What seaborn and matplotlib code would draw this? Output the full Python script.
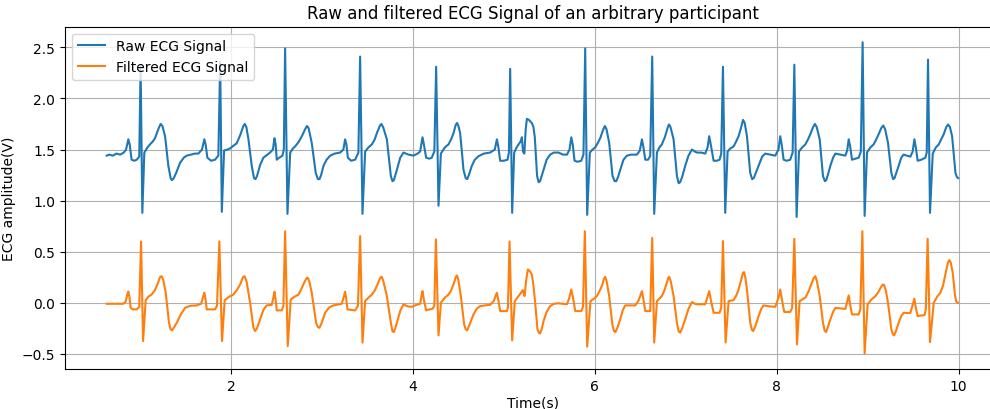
import matplotlib
matplotlib.use("Agg")
import matplotlib.pyplot as plt
import seaborn as sns
import pandas as pd

# Raw ECG trace as (time in s, amplitude in V), one row per heartbeat
raw_points = [
    (0.632, 1.44), (0.66, 1.45), (0.70, 1.44), (0.74, 1.46), (0.78, 1.45), (0.82, 1.47), (0.845, 1.50),
    (0.870, 1.60), (0.885, 1.55), (0.906, 1.40), (0.935, 1.39), (0.962, 1.40), (0.990, 1.43),
    (1.005, 2.33), (1.024, 0.88), (1.046, 1.47), (1.08, 1.52), (1.108, 1.55), (1.14, 1.58), (1.163, 1.61),
    (1.20, 1.70), (1.225, 1.75), (1.245, 1.73), (1.274, 1.63), (1.310, 1.34), (1.335, 1.22), (1.350, 1.20),
    (1.37, 1.22), (1.40, 1.28), (1.439, 1.37), (1.48, 1.42), (1.512, 1.44), (1.56, 1.45), (1.60, 1.46),
    (1.64, 1.46), (1.68, 1.50), (1.706, 1.60), (1.72, 1.55), (1.739, 1.42), (1.78, 1.39), (1.823, 1.40),
    (1.860, 1.44),
    (1.880, 2.36), (1.898, 0.89), (1.923, 1.49), (1.96, 1.50), (1.988, 1.51), (2.03, 1.54), (2.061, 1.56),
    (2.10, 1.64), (2.135, 1.73), (2.150, 1.75), (2.168, 1.72), (2.191, 1.60), (2.227, 1.34), (2.252, 1.22),
    (2.268, 1.21), (2.285, 1.24), (2.320, 1.35), (2.355, 1.42), (2.40, 1.45), (2.429, 1.47), (2.460, 1.50),
    (2.477, 1.61), (2.49, 1.55), (2.502, 1.40), (2.53, 1.42), (2.565, 1.44), (2.580, 1.50),
    (2.594, 2.49), (2.620, 0.87), (2.650, 1.47), (2.68, 1.51), (2.704, 1.53), (2.74, 1.57), (2.778, 1.63),
    (2.815, 1.70), (2.835, 1.73), (2.852, 1.71), (2.887, 1.565), (2.931, 1.27), (2.955, 1.21), (2.972, 1.21),
    (2.99, 1.25), (3.016, 1.34), (3.05, 1.40), (3.090, 1.44), (3.14, 1.46), (3.199, 1.47), (3.235, 1.50),
    (3.254, 1.60), (3.268, 1.55), (3.284, 1.42), (3.32, 1.39), (3.364, 1.40), (3.400, 1.47),
    (3.419, 2.41), (3.445, 0.87), (3.474, 1.48), (3.51, 1.52), (3.548, 1.55), (3.58, 1.60), (3.603, 1.66),
    (3.635, 1.73), (3.652, 1.75), (3.672, 1.72), (3.713, 1.60), (3.757, 1.24), (3.775, 1.19), (3.790, 1.20),
    (3.823, 1.30), (3.86, 1.42), (3.896, 1.47), (3.95, 1.45), (4.006, 1.44), (4.05, 1.46), (4.079, 1.48),
    (4.105, 1.62), (4.12, 1.55), (4.145, 1.42), (4.18, 1.41), (4.207, 1.42), (4.235, 1.48),
    (4.255, 2.31), (4.281, 0.95), (4.307, 1.46), (4.35, 1.52), (4.391, 1.55), (4.42, 1.60), (4.446, 1.66),
    (4.470, 1.74), (4.485, 1.76), (4.500, 1.73), (4.519, 1.66), (4.556, 1.30), (4.580, 1.22), (4.596, 1.21),
    (4.615, 1.25), (4.647, 1.34), (4.68, 1.40), (4.721, 1.435), (4.78, 1.46), (4.849, 1.47), (4.900, 1.50),
    (4.923, 1.60), (4.94, 1.52), (4.959, 1.39), (5.00, 1.39), (5.040, 1.40), (5.055, 1.47),
    (5.069, 2.29), (5.091, 0.88), (5.113, 1.47), (5.14, 1.52), (5.161, 1.55), (5.185, 1.58), (5.198, 1.62),
    (5.210, 1.48), (5.225, 1.46), (5.240, 1.70), (5.253, 1.80), (5.275, 1.79), (5.307, 1.76), (5.325, 1.72),
    (5.340, 1.62), (5.365, 1.24), (5.382, 1.18), (5.398, 1.19), (5.436, 1.30), (5.47, 1.40), (5.509, 1.45),
    (5.55, 1.47), (5.601, 1.47), (5.65, 1.45), (5.693, 1.45), (5.722, 1.50), (5.741, 1.62), (5.757, 1.55),
    (5.777, 1.39), (5.81, 1.38), (5.851, 1.39), (5.875, 1.45),
    (5.894, 2.49), (5.916, 0.86), (5.945, 1.47), (5.975, 1.50), (6.004, 1.52), (6.03, 1.56), (6.059, 1.61),
    (6.09, 1.69), (6.110, 1.73), (6.128, 1.70), (6.158, 1.565), (6.195, 1.24), (6.218, 1.19), (6.235, 1.19),
    (6.255, 1.23), (6.279, 1.30), (6.315, 1.40), (6.353, 1.44), (6.40, 1.45), (6.463, 1.45), (6.495, 1.49),
    (6.518, 1.60), (6.533, 1.53), (6.555, 1.40), (6.585, 1.40), (6.609, 1.435),
    (6.631, 2.41), (6.653, 0.87), (6.683, 1.47), (6.71, 1.52), (6.737, 1.55), (6.77, 1.62), (6.800, 1.71),
    (6.815, 1.745), (6.832, 1.72), (6.866, 1.60), (6.903, 1.24), (6.922, 1.17), (6.938, 1.18), (6.960, 1.23),
    (6.994, 1.34), (7.03, 1.44), (7.068, 1.50), (7.10, 1.48), (7.123, 1.47), (7.17, 1.47), (7.214, 1.46),
    (7.240, 1.52), (7.258, 1.63), (7.275, 1.55), (7.306, 1.39), (7.34, 1.39), (7.372, 1.40), (7.390, 1.46),
    (7.409, 2.31), (7.434, 0.88), (7.460, 1.48), (7.49, 1.51), (7.526, 1.53), (7.555, 1.58), (7.581, 1.63),
    (7.61, 1.72), (7.630, 1.79), (7.648, 1.76), (7.673, 1.63), (7.709, 1.27), (7.730, 1.21), (7.748, 1.22),
    (7.770, 1.27), (7.801, 1.34), (7.84, 1.43), (7.874, 1.46), (7.93, 1.45), (7.984, 1.44), (8.02, 1.50),
    (8.039, 1.63), (8.055, 1.55), (8.076, 1.40), (8.11, 1.39), (8.149, 1.40), (8.175, 1.47),
    (8.194, 2.33), (8.219, 0.84), (8.245, 1.48), (8.28, 1.52), (8.315, 1.55), (8.345, 1.60), (8.370, 1.65),
    (8.400, 1.72), (8.420, 1.75), (8.440, 1.72), (8.473, 1.60), (8.509, 1.24), (8.530, 1.19), (8.545, 1.20),
    (8.565, 1.26), (8.590, 1.34), (8.62, 1.42), (8.645, 1.46), (8.70, 1.45), (8.755, 1.44), (8.775, 1.49),
    (8.792, 1.60), (8.808, 1.53), (8.828, 1.40), (8.865, 1.41), (8.902, 1.42), (8.925, 1.48),
    (8.945, 2.55), (8.967, 0.85), (8.993, 1.47), (9.03, 1.52), (9.066, 1.55), (9.095, 1.60), (9.121, 1.65),
    (9.150, 1.71), (9.172, 1.735), (9.192, 1.70), (9.224, 1.565), (9.261, 1.27), (9.280, 1.21), (9.296, 1.22),
    (9.315, 1.27), (9.341, 1.34), (9.37, 1.42), (9.396, 1.45), (9.43, 1.44), (9.470, 1.43), (9.495, 1.48),
    (9.514, 1.60), (9.530, 1.52), (9.550, 1.39), (9.59, 1.40), (9.635, 1.42), (9.650, 1.47),
    (9.664, 2.38), (9.686, 0.88), (9.716, 1.46), (9.75, 1.52), (9.782, 1.55), (9.81, 1.60), (9.837, 1.65),
    (9.865, 1.72), (9.885, 1.745), (9.905, 1.72), (9.929, 1.63), (9.966, 1.27), (9.982, 1.23), (9.995, 1.22),
]

# Filtered ECG trace as (time in s, amplitude in V), one row per heartbeat
filtered_points = [
    (0.632, -0.01), (0.70, -0.01), (0.78, -0.01), (0.815, -0.01), (0.840, 0.01), (0.858, 0.08), (0.870, 0.11),
    (0.882, 0.06), (0.896, -0.05), (0.92, -0.065), (0.962, -0.065), (0.990, -0.04), (1.010, 0.60),
    (1.032, -0.375), (1.061, 0.026), (1.09, 0.06), (1.126, 0.08), (1.16, 0.12), (1.190, 0.18), (1.218, 0.25),
    (1.236, 0.26), (1.255, 0.22), (1.281, 0.10), (1.317, -0.196), (1.335, -0.26), (1.350, -0.27),
    (1.370, -0.245), (1.402, -0.196), (1.45, -0.11), (1.494, -0.05), (1.55, -0.03), (1.622, -0.026),
    (1.670, -0.01), (1.690, 0.05), (1.706, 0.10), (1.718, 0.04), (1.732, -0.065), (1.78, -0.065),
    (1.823, -0.065), (1.845, -0.03),
    (1.871, 0.60), (1.900, -0.375), (1.930, 0.026), (1.98, 0.06), (2.025, 0.08), (2.06, 0.12), (2.100, 0.18),
    (2.130, 0.25), (2.148, 0.26), (2.170, 0.21), (2.209, 0.00), (2.245, -0.24), (2.264, -0.277),
    (2.285, -0.25), (2.319, -0.163), (2.355, -0.07), (2.392, -0.026), (2.447, -0.02), (2.465, 0.05),
    (2.477, 0.108), (2.490, 0.03), (2.502, -0.075), (2.557, -0.075), (2.575, -0.03),
    (2.594, 0.70), (2.623, -0.424), (2.656, 0.033), (2.70, 0.06), (2.741, 0.08), (2.775, 0.14), (2.800, 0.19),
    (2.830, 0.24), (2.843, 0.245), (2.860, 0.21), (2.887, 0.098), (2.935, -0.196), (2.955, -0.24),
    (2.972, -0.245), (2.995, -0.20), (3.034, -0.098), (3.08, -0.045), (3.126, -0.026), (3.217, -0.01),
    (3.240, 0.06), (3.254, 0.108), (3.266, 0.04), (3.280, -0.065), (3.32, -0.07), (3.364, -0.075),
    (3.395, -0.03),
    (3.419, 0.652), (3.445, -0.39), (3.474, 0.016), (3.51, 0.05), (3.548, 0.08), (3.58, 0.12), (3.610, 0.18),
    (3.640, 0.245), (3.657, 0.254), (3.675, 0.21), (3.713, 0.065), (3.757, -0.196), (3.775, -0.28),
    (3.790, -0.287), (3.805, -0.25), (3.823, -0.196), (3.86, -0.08), (3.896, -0.016), (3.94, -0.035),
    (3.988, -0.04), (4.04, -0.02), (4.079, -0.01), (4.092, 0.06), (4.105, 0.114), (4.120, 0.03),
    (4.145, -0.075), (4.18, -0.065), (4.215, -0.06), (4.235, -0.03),
    (4.252, 0.62), (4.281, -0.32), (4.307, 0.0), (4.35, 0.05), (4.391, 0.08), (4.42, 0.12), (4.450, 0.19),
    (4.472, 0.255), (4.485, 0.267), (4.500, 0.22), (4.527, 0.065), (4.563, -0.212), (4.580, -0.26),
    (4.596, -0.27), (4.620, -0.22), (4.666, -0.114), (4.70, -0.06), (4.739, -0.033), (4.80, -0.025),
    (4.849, -0.02), (4.890, 0.02), (4.910, 0.07), (4.923, 0.098), (4.938, 0.03), (4.959, -0.082),
    (5.00, -0.082), (5.033, -0.082), (5.045, -0.04),
    (5.062, 0.60), (5.091, -0.368), (5.120, 0.016), (5.140, 0.04), (5.161, 0.065), (5.190, 0.10),
    (5.208, 0.124), (5.218, 0.09), (5.227, 0.065), (5.245, 0.22), (5.264, 0.326), (5.285, 0.31),
    (5.307, 0.277), (5.325, 0.17), (5.344, 0.0), (5.369, -0.26), (5.385, -0.295), (5.398, -0.30),
    (5.415, -0.26), (5.436, -0.18), (5.47, -0.09), (5.509, -0.033), (5.55, -0.01), (5.601, -0.005),
    (5.693, -0.015), (5.720, 0.05), (5.741, 0.13), (5.760, 0.05), (5.785, -0.082), (5.851, -0.082),
    (5.870, -0.04),
    (5.890, 0.70), (5.916, -0.43), (5.952, 0.016), (5.99, 0.04), (6.022, 0.065), (6.05, 0.11), (6.080, 0.17),
    (6.100, 0.235), (6.114, 0.254), (6.130, 0.21), (6.158, 0.065), (6.195, -0.228), (6.213, -0.28),
    (6.228, -0.287), (6.250, -0.24), (6.279, -0.163), (6.305, -0.08), (6.334, -0.026), (6.39, -0.026),
    (6.444, -0.026), (6.48, 0.02), (6.505, 0.08), (6.518, 0.114), (6.533, 0.04), (6.555, -0.082),
    (6.609, -0.082),
    (6.631, 0.636), (6.653, -0.39), (6.683, 0.016), (6.710, 0.04), (6.737, 0.065), (6.765, 0.12),
    (6.790, 0.19), (6.808, 0.245), (6.818, 0.254), (6.835, 0.21), (6.866, 0.065), (6.903, -0.196),
    (6.922, -0.28), (6.938, -0.293), (6.960, -0.25), (6.994, -0.163), (7.03, -0.06), (7.068, 0.007),
    (7.10, -0.01), (7.123, -0.015), (7.214, -0.015), (7.240, 0.06), (7.258, 0.114), (7.275, 0.03),
    (7.306, -0.098), (7.34, -0.098), (7.372, -0.098), (7.390, -0.05),
    (7.409, 0.603), (7.438, -0.39), (7.471, 0.016), (7.526, 0.026), (7.555, 0.07), (7.581, 0.13),
    (7.610, 0.23), (7.630, 0.295), (7.642, 0.30), (7.655, 0.25), (7.673, 0.13), (7.709, -0.196),
    (7.728, -0.265), (7.742, -0.277), (7.765, -0.23), (7.801, -0.13), (7.830, -0.06), (7.856, -0.026),
    (7.92, -0.035), (7.984, -0.04), (8.02, 0.05), (8.039, 0.13), (8.058, 0.03), (8.083, -0.09),
    (8.149, -0.09), (8.170, -0.05),
    (8.194, 0.626), (8.223, -0.408), (8.252, 0.016), (8.285, 0.035), (8.315, 0.05), (8.350, 0.11),
    (8.380, 0.18), (8.408, 0.245), (8.425, 0.26), (8.442, 0.21), (8.473, 0.065), (8.509, -0.196),
    (8.528, -0.275), (8.543, -0.287), (8.562, -0.24), (8.590, -0.163), (8.62, -0.09), (8.645, -0.05),
    (8.70, -0.055), (8.755, -0.06), (8.778, 0.02), (8.792, 0.072), (8.808, -0.02), (8.828, -0.114),
    (8.865, -0.114), (8.902, -0.114), (8.920, -0.06),
    (8.942, 0.70), (8.967, -0.496), (9.000, -0.016), (9.04, 0.03), (9.085, 0.065), (9.115, 0.10),
    (9.145, 0.15), (9.165, 0.178), (9.180, 0.175), (9.200, 0.12), (9.224, 0.0), (9.261, -0.26),
    (9.278, -0.31), (9.292, -0.32), (9.310, -0.28), (9.341, -0.196), (9.37, -0.13), (9.396, -0.098),
    (9.43, -0.10), (9.470, -0.10), (9.495, -0.02), (9.514, 0.04), (9.530, -0.05), (9.550, -0.13),
    (9.59, -0.125), (9.627, -0.12), (9.640, -0.06),
    (9.660, 0.626), (9.686, -0.385), (9.727, 0.0), (9.765, 0.06), (9.800, 0.098), (9.830, 0.17),
    (9.860, 0.30), (9.885, 0.40), (9.900, 0.417), (9.915, 0.39), (9.936, 0.293), (9.960, 0.08),
    (9.973, 0.016), (9.985, 0.002), (9.995, 0.0),
]

series_labels = ["Raw ECG Signal", "Filtered ECG Signal"]
series_colors = ["#1f77b4", "#ff7f0e"]

raw_df = pd.DataFrame(raw_points, columns=["Time(s)", "ECG amplitude(V)"])
filt_df = pd.DataFrame(filtered_points, columns=["Time(s)", "ECG amplitude(V)"])

fig = plt.figure(figsize=(9.9, 4.1), dpi=100)
# the axes run slightly past the right edge of the canvas
ax = fig.add_axes([0.0657, 0.0976, 0.9448, 0.8349])

for df, label, color in zip([raw_df, filt_df], series_labels, series_colors):
    sns.lineplot(data=df, x="Time(s)", y="ECG amplitude(V)", ax=ax,
                 color=color, linewidth=1.5, sort=False, estimator=None,
                 label=label)

ax.set_xlim(0.174, 10.46)
ax.set_xticks([2, 4, 6, 8, 10])
ax.set_yticks([-0.5, 0.0, 0.5, 1.0, 1.5, 2.0, 2.5])
ax.grid(True, color="#b0b0b0", linewidth=0.8)
ax.set_axisbelow(True)
ax.set_title("Raw and filtered ECG Signal of an arbitrary participant", fontsize=12)
ax.set_xlabel("Time(s)", labelpad=2)
ax.set_ylabel("ECG amplitude(V)")
ax.legend(loc="upper left")

fig.savefig("out.png", dpi=100)
